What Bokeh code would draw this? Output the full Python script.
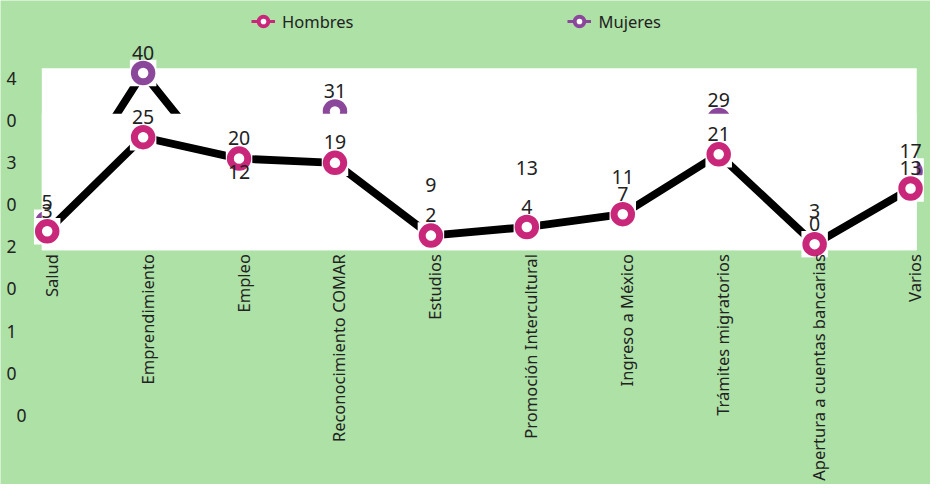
import numpy as np
from bokeh.plotting import figure
from bokeh.models import (ColumnDataSource, LabelSet, Label, Legend, LegendItem, Range1d)
from bokeh.core.properties import value
from bokeh.embed import file_html
from bokeh.resources import INLINE

# ---------------- data ----------------
categories = ["Salud", "Emprendimiento", "Empleo", "Reconocimiento COMAR", "Estudios",
              "Promoción Intercultural", "Ingreso a México", "Trámites migratorios",
              "Apertura a cuentas bancarias", "Varios"]
hombres = [3, 25, 20, 19, 2, 4, 7, 21, 0, 13]
mujeres = [5, 40, 12, 31, 9, 13, 11, 29, 3, 17]
y_tick_labels = ["40", "30", "20", "10", "0"]

# ---------------- style ----------------
PINK = "#C9287A"
PURPLE = "#8B489B"
GREEN = "#ADE1A6"
TEXT = "#222222"
FONT = "Noto Sans"

W, H = 930, 484
# scale: one category step, one unit of value (in canvas pixels)
X0_PX, X_STEP = 47.5 * W / 946, 97.58 * W / 946
Y0_PX, Y_STEP = 251.7 * H / 500, 4.42 * H / 500

def xd(px):  # canvas px -> x data
    return (px - X0_PX) / X_STEP

def yd(px):  # canvas px (from top) -> y data
    return (Y0_PX - px) / Y_STEP

sx, sy = W / 946, H / 500

X_START, X_END = xd(0), xd(W)
Y_START, Y_END = yd(H), yd(0)
PLOT_LEFT, PLOT_RIGHT = xd(42 * sx), xd(932 * sx)
PLOT_TOP, PLOT_BOTTOM = yd(70 * sy), yd(258 * sy)
MASK_TOP = yd(117 * sy)

x = list(range(len(categories)))
src = ColumnDataSource(dict(x=x, h=hombres, m=mujeres,
                            hl=[str(v) for v in hombres],
                            ml=[str(v) for v in mujeres]))

p = figure(width=W, height=H, output_backend="svg", toolbar_location=None,
           x_range=Range1d(X_START, X_END), y_range=Range1d(Y_START, Y_END),
           x_axis_location=None, y_axis_location=None, min_border=0,
           background_fill_color=GREEN, border_fill_color=GREEN)
p.outline_line_color = None
p.grid.visible = False

# white plot area
p.quad(left=[PLOT_LEFT], right=[PLOT_RIGHT], bottom=[PLOT_BOTTOM], top=[PLOT_TOP],
       fill_color="white", line_color=None)

RING = 17.5
RING_W = 7
SQ = 26.5
LW = 7.8

# Mujeres series
p.line("x", "m", source=src, line_color="black", line_width=LW, line_join="round")
p.scatter("x", "m", source=src, marker="square", size=SQ, fill_color="white", line_color=None)
p.scatter("x", "m", source=src, marker="circle", size=RING, fill_color="white",
          line_color=PURPLE, line_width=RING_W)

# white area covering the lower part of the plot
p.quad(left=[PLOT_LEFT], right=[PLOT_RIGHT], bottom=[PLOT_BOTTOM], top=[MASK_TOP],
       fill_color="white", line_color=None)

# Hombres series
p.line("x", "h", source=src, line_color="black", line_width=LW, line_join="round")
p.scatter("x", "h", source=src, marker="square", size=SQ, fill_color="white", line_color=None)
p.scatter("x", "h", source=src, marker="circle", size=RING, fill_color="white",
          line_color=PINK, line_width=RING_W)

# data labels
for col in ("ml", "hl"):
    p.add_layout(LabelSet(x="x", y=col[0], text=col, source=src, y_offset=20.5,
                          text_align="center", text_baseline="middle",
                          text_font=value(FONT), text_font_size=value("19.5px"),
                          text_color=TEXT))

# category labels (vertical, under the plot area)
p.text(x=[i + xd(X0_PX + 4) for i in x], y=[yd(262 * sy)] * len(x), text=categories,
       angle=np.pi / 2, text_align="right", text_baseline="middle",
       text_font=value(FONT), text_font_size=value("16.5px"), text_color=TEXT)

# legend glyphs (renderers with no visible data)
nan = [float("nan")]
lh_line = p.line(x=nan, y=nan, line_color=PINK, line_width=3)
lh_mark = p.scatter(x=nan, y=nan, marker="circle", fill_color="white", line_color=PINK, line_width=4)
lm_line = p.line(x=nan, y=nan, line_color=PURPLE, line_width=3)
lm_mark = p.scatter(x=nan, y=nan, marker="circle", fill_color="white", line_color=PURPLE, line_width=4)
legend = Legend(items=[LegendItem(label="Hombres", renderers=[lh_line, lh_mark]),
                       LegendItem(label="Mujeres", renderers=[lm_line, lm_mark])],
                orientation="horizontal", location=(251, 451), spacing=214,
                glyph_width=24, glyph_height=24, label_standoff=7,
                padding=0, margin=0, border_line_color=None, background_fill_alpha=0,
                label_text_font=FONT, label_text_font_size="16.5px", label_text_color=TEXT)
p.add_layout(legend)

# y tick labels, shown one character per line down the left edge
chars = list("".join(y_tick_labels))
for i, ch in enumerate(chars):
    px_y = (80.5 + 43.5 * i) * sy
    px_x = (21.3 if i == len(chars) - 1 else 11.3) * sx
    p.add_layout(Label(x=xd(px_x), y=yd(px_y), text=ch,
                       text_align="center", text_baseline="middle",
                       text_font=FONT, text_font_size="17.5px", text_color=TEXT))

open("out.html", "w").write(file_html(p, INLINE))
